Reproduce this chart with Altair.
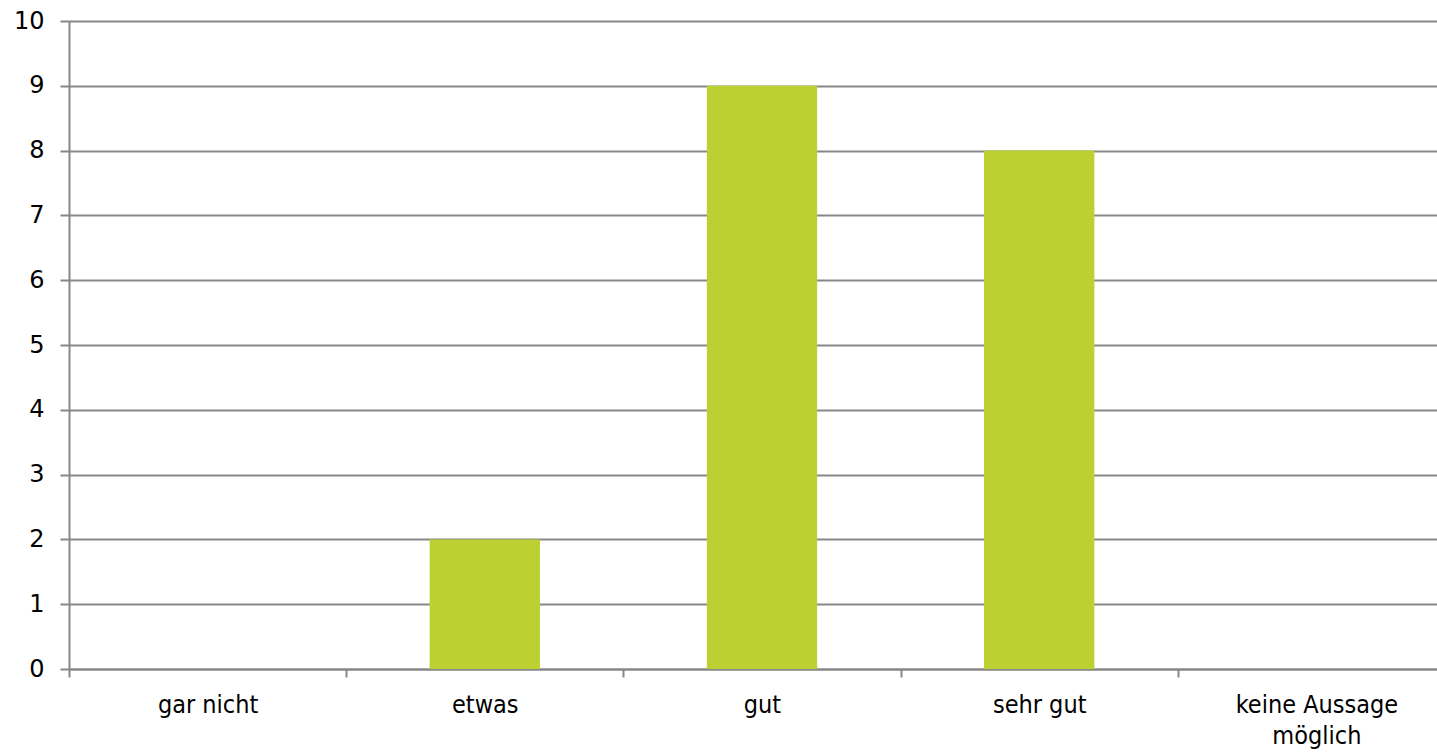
import altair as alt
import pandas as pd

# Answer categories and number of responses
categories = ["gar nicht", "etwas", "gut", "sehr gut", "keine Aussage möglich"]
counts = [0, 2, 9, 8, 0]

df = pd.DataFrame({"Kategorie": categories, "Anzahl": counts})

GRID = "#878787"

chart = (
    alt.Chart(df)
    .mark_bar(color="#BCD131", width=alt.RelativeBandSize(0.398))
    .encode(
        x=alt.X(
            "Kategorie:N",
            sort=categories,
            title=None,
            scale=alt.Scale(paddingInner=0, paddingOuter=0, range=[0, 1386]),
            axis=alt.Axis(
                labelAngle=0,
                labelFont="DejaVu Sans Condensed",
                labelFontSize=25,
                labelColor="#000000",
                labelPadding=15,
                labelLineHeight=31,
                labelExpr="datum.label == 'keine Aussage möglich' ? ['keine Aussage', 'möglich'] : datum.label",
                tickBand="extent",
                tickSize=8,
                tickColor=GRID,
                tickWidth=2,
                domainColor=GRID,
                domainWidth=2,
                grid=False,
            ),
        ),
        y=alt.Y(
            "Anzahl:Q",
            title=None,
            scale=alt.Scale(domain=[0, 10], nice=False),
            axis=alt.Axis(
                values=list(range(0, 11)),
                labelFont="DejaVu Sans",
                labelFontSize=24,
                labelColor="#000000",
                labelPadding=16,
                tickSize=9,
                tickColor=GRID,
                tickWidth=2,
                domainColor=GRID,
                domainWidth=2,
                grid=True,
                gridColor=GRID,
                gridWidth=2,
            ),
        ),
    )
    .properties(
        width=1368,
        height=648,
        autosize=alt.AutoSizeParams(type="none"),
        padding={"left": 69, "top": 21, "right": 0, "bottom": 84},
    )
    .configure_view(stroke=None)
    .configure(background="#FFFFFF")
)

chart.save("out.html", embed_options={"renderer": "svg", "actions": False})
